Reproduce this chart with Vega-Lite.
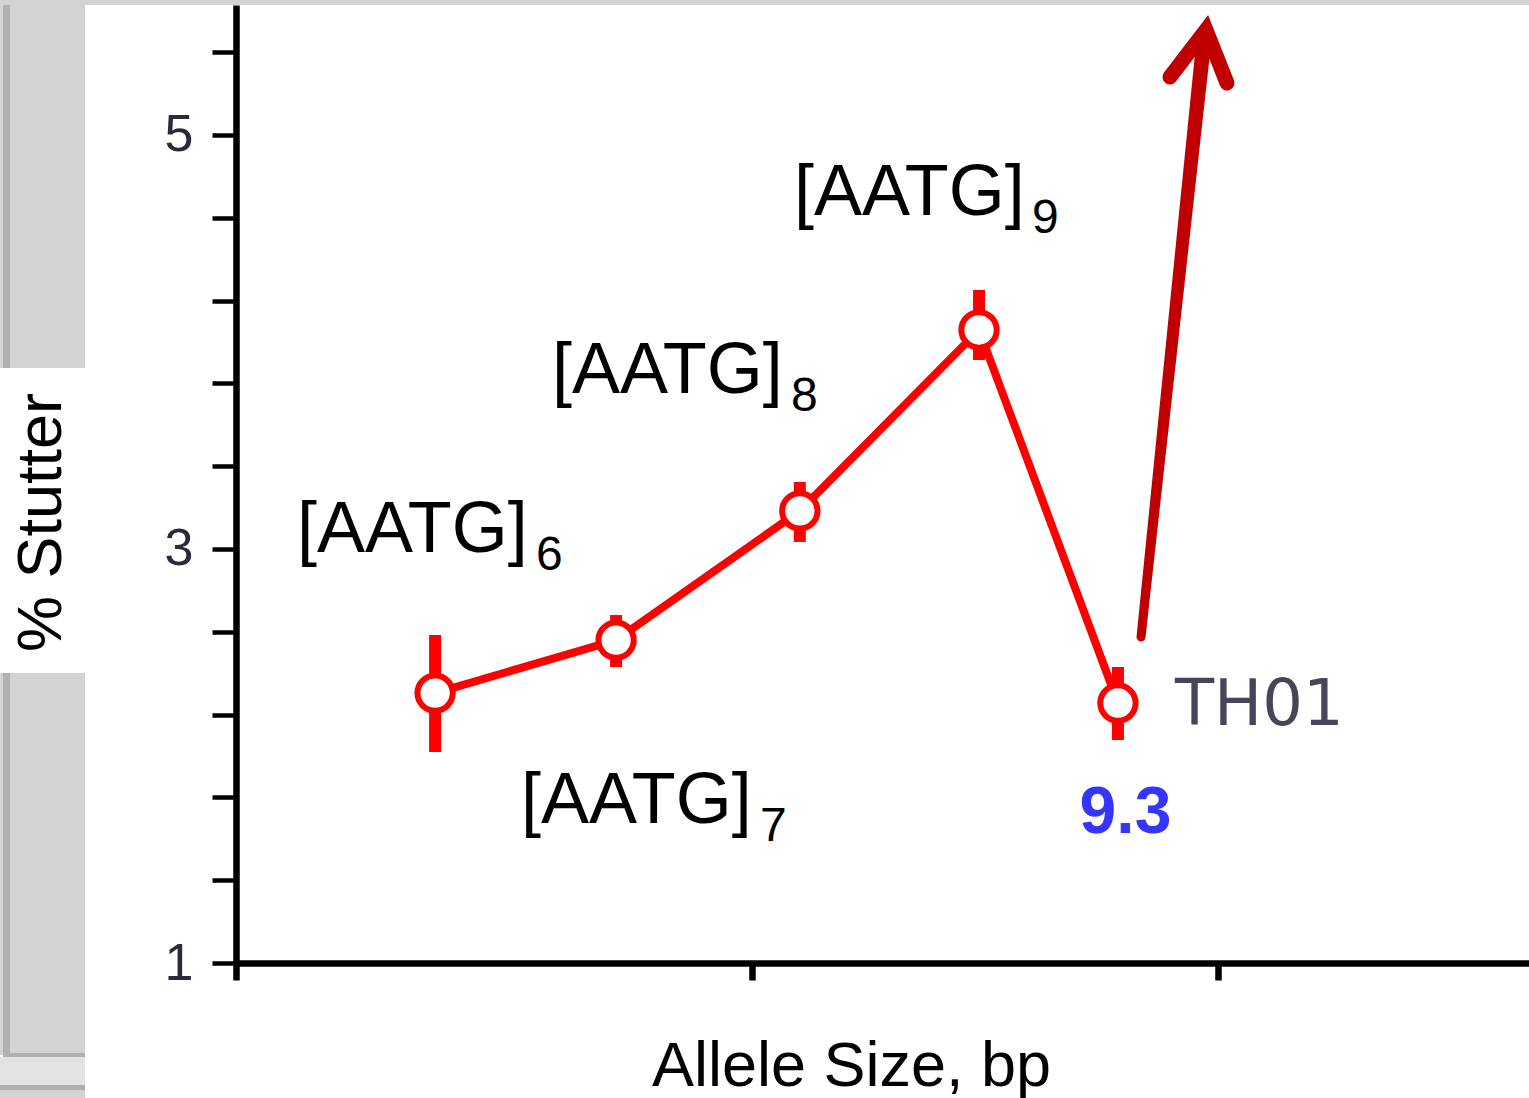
{
  "$schema": "https://vega.github.io/schema/vega-lite/v6.json",
  "autosize": "none",
  "width": 1293,
  "height": 958,
  "padding": {"left": 236, "top": 5, "right": 0, "bottom": 135},
  "background": "white",
  "config": {"view": {"stroke": null}, "font": "Liberation Sans"},
  "datasets": {
    "stutter": [
      {"allele": "6", "x": 179.0, "y": 2.304, "lo": 2.019, "hi": 2.585},
      {"allele": "7", "x": 183.0, "y": 2.560, "lo": 2.430, "hi": 2.681},
      {"allele": "8", "x": 187.06, "y": 3.184, "lo": 3.034, "hi": 3.324},
      {"allele": "9", "x": 191.02, "y": 4.058, "lo": 3.913, "hi": 4.251},
      {"allele": "9.3", "x": 194.09, "y": 2.256, "lo": 2.077, "hi": 2.430}
    ],
    "frame": [
      {"part": "panel", "x1": 169.385, "x2": 203.175, "y1": 5.628, "y2": 5.652},
      {"part": "panel", "x1": 169.385, "x2": 171.263, "y1": 3.874, "y2": 5.652},
      {"part": "panel", "x1": 169.385, "x2": 171.263, "y1": 0.556, "y2": 2.401},
      {"part": "band", "x1": 169.385, "x2": 171.263, "y1": 0.386, "y2": 0.546},
      {"part": "panel", "x1": 169.385, "x2": 171.263, "y1": 0.348, "y2": 0.386},
      {"part": "edge", "x1": 169.451, "x2": 169.606, "y1": 3.874, "y2": 5.628},
      {"part": "edge", "x1": 169.451, "x2": 169.606, "y1": 0.546, "y2": 2.401},
      {"part": "edge", "x1": 169.451, "x2": 171.263, "y1": 0.546, "y2": 0.565},
      {"part": "edge", "x1": 169.385, "x2": 171.263, "y1": 0.386, "y2": 0.411}
    ],
    "shaft": [
      {"x": 194.6, "y": 2.575},
      {"x": 195.99, "y": 5.459}
    ],
    "head": [
      {"o": 1, "x": 195.24, "y": 5.280},
      {"o": 2, "x": 196.036, "y": 5.507},
      {"o": 3, "x": 196.50, "y": 5.251}
    ],
    "repeat": [
      {"t": "[AATG]", "x": 175.948, "y": 2.9855},
      {"t": "[AATG]", "x": 180.898, "y": 1.6763},
      {"t": "[AATG]", "x": 181.583, "y": 3.7536},
      {"t": "[AATG]", "x": 186.931, "y": 4.6135}
    ],
    "sub": [
      {"t": "6", "x": 181.230, "y": 2.8986},
      {"t": "7", "x": 186.180, "y": 1.5894},
      {"t": "8", "x": 186.865, "y": 3.6667},
      {"t": "9", "x": 192.191, "y": 4.5266}
    ],
    "micro": [{"t": "9.3", "x": 194.257, "y": 1.628}],
    "locus": [{"t": "TH01", "x": 195.351, "y": 2.150}]
  },
  "encoding": {
    "x": {
      "field": "x",
      "type": "quantitative",
      "scale": {"domain": [174.6, 203.174], "nice": false, "zero": false},
      "axis": {
        "values": [174.6, 186.0, 196.3],
        "labels": false,
        "grid": false,
        "tickSize": 17,
        "tickWidth": 6.5,
        "tickColor": "black",
        "domainColor": "black",
        "domainWidth": 6.5,
        "title": "Allele Size, bp",
        "titleFont": "Liberation Sans",
        "titleFontSize": 63,
        "titleFontWeight": "normal",
        "titleColor": "black",
        "titleX": 615,
        "titleY": 122,
        "titleAlign": "center",
        "titleBaseline": "alphabetic"
      }
    },
    "y": {
      "field": "y",
      "type": "quantitative",
      "scale": {"domain": [1, 5.628], "nice": false, "zero": false},
      "axis": {
        "values": [1, 1.4, 1.8, 2.2, 2.6, 3, 3.4, 3.8, 4.2, 4.6, 5, 5.4],
        "labelExpr": "datum.value === 1 || datum.value === 3 || datum.value === 5 ? format(datum.value, 'd') : ''",
        "grid": false,
        "tickSize": 24,
        "tickWidth": 4.5,
        "tickColor": "black",
        "domainColor": "black",
        "domainWidth": 6.5,
        "labelFont": "Liberation Sans",
        "labelFontSize": 52,
        "labelColor": "#2a2a3a",
        "labelPadding": 19,
        "labelOverlap": false,
        "labelFlush": false,
        "labelBound": false,
        "title": "% Stutter",
        "titleFont": "Liberation Sans",
        "titleFontSize": 63,
        "titleFontWeight": "normal",
        "titleColor": "black",
        "titleAngle": -90,
        "titleX": -176,
        "titleY": 517,
        "titleAlign": "center",
        "titleBaseline": "alphabetic"
      }
    }
  },
  "layer": [
    {
      "data": {"name": "frame"},
      "mark": {"type": "rect", "clip": false},
      "encoding": {
        "x": {"field": "x1", "type": "quantitative"},
        "x2": {"field": "x2"},
        "y": {"field": "y1", "type": "quantitative"},
        "y2": {"field": "y2"},
        "color": {
          "field": "part",
          "type": "nominal",
          "scale": {"domain": ["panel", "band", "edge"], "range": ["#d3d3d3", "#e3e3e3", "#b0b0b0"]},
          "legend": null
        }
      }
    },
    {
      "data": {"name": "stutter"},
      "mark": {"type": "rule", "color": "#ff0000", "strokeWidth": 12},
      "encoding": {
        "y": {"field": "lo", "type": "quantitative"},
        "y2": {"field": "hi"}
      }
    },
    {
      "data": {"name": "stutter"},
      "mark": {"type": "line", "color": "#ff0000", "strokeWidth": 8}
    },
    {
      "data": {"name": "stutter"},
      "mark": {"type": "point", "shape": "circle", "filled": true, "fill": "white", "stroke": "#ff0000", "strokeWidth": 6, "size": 1250, "opacity": 1}
    },
    {
      "data": {"name": "shaft"},
      "mark": {"type": "trail", "color": "#c00000"},
      "encoding": {
        "order": {"field": "y", "type": "quantitative"},
        "size": {"field": "y", "type": "quantitative", "scale": {"domain": [2.575, 5.459], "range": [9, 15]}, "legend": null}
      }
    },
    {
      "data": {"name": "head"},
      "mark": {"type": "line", "color": "#c00000", "strokeWidth": 15, "strokeCap": "round", "strokeJoin": "miter"},
      "encoding": {
        "order": {"field": "o", "type": "quantitative"}
      }
    },
    {
      "data": {"name": "repeat"},
      "mark": {"type": "text", "align": "left", "baseline": "alphabetic", "font": "Liberation Sans", "fontSize": 72, "color": "black"},
      "encoding": {"text": {"field": "t"}}
    },
    {
      "data": {"name": "sub"},
      "mark": {"type": "text", "align": "left", "baseline": "alphabetic", "font": "Liberation Sans", "fontSize": 48, "color": "black"},
      "encoding": {"text": {"field": "t"}}
    },
    {
      "data": {"name": "micro"},
      "mark": {"type": "text", "align": "center", "baseline": "alphabetic", "font": "Liberation Sans", "fontWeight": "bold", "fontSize": 66, "color": "#3535ff"},
      "encoding": {"text": {"field": "t"}}
    },
    {
      "data": {"name": "locus"},
      "mark": {"type": "text", "align": "left", "baseline": "alphabetic", "font": "DejaVu Sans", "fontSize": 64, "color": "#4a4458"},
      "encoding": {"text": {"field": "t"}}
    }
  ]
}
